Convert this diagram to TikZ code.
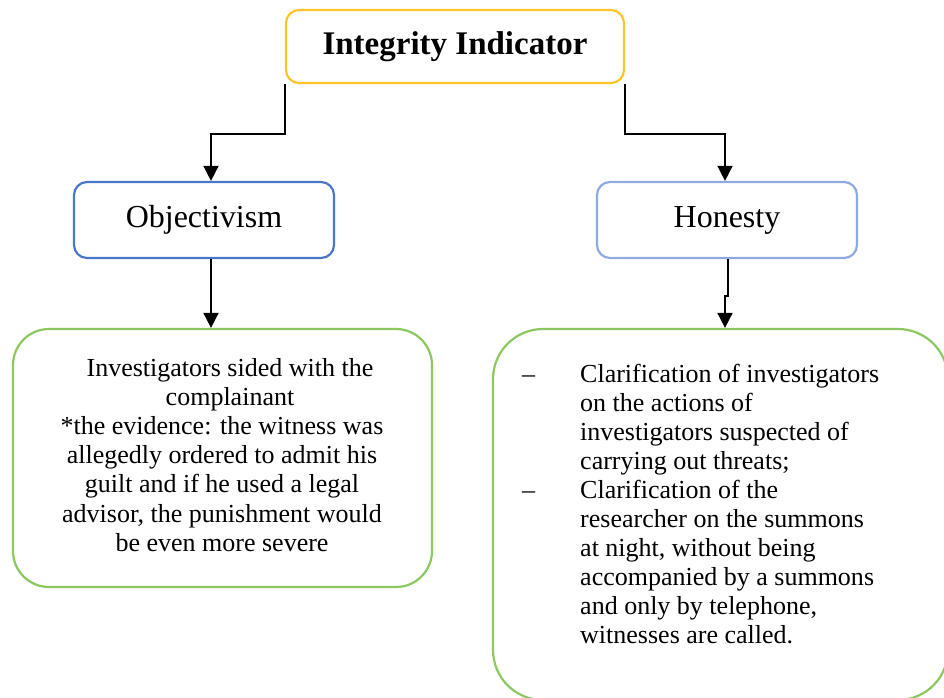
\documentclass[tikz,border=0pt]{standalone}
\usepackage{fontspec}
\setmainfont{Liberation Serif}
\usetikzlibrary{arrows.meta}
\definecolor{ybord}{RGB}{255,196,40}
\definecolor{bdark}{RGB}{72,118,200}
\definecolor{blight}{RGB}{143,170,220}
\definecolor{gbord}{RGB}{140,200,95}
\begin{document}
\begin{tikzpicture}[x=1pt,y=-1pt,
  box/.style={draw,line width=2.2pt,inner sep=0pt,align=center},
  arr/.style={line width=1.6pt,-{Triangle[length=15pt,width=15pt]}},
  txt/.style={inner sep=0pt}]
\useasboundingbox (0,0) rectangle (944,697);
\clip (0,0) rectangle (944,697);
\node[box,draw=ybord,rounded corners=13pt,minimum width=338pt,minimum height=73pt,font=\fontsize{33}{38}\selectfont\bfseries] (top) at (455,46.5) {Integrity Indicator};
\node[box,draw=bdark,rounded corners=13pt,minimum width=260pt,minimum height=76pt,font=\fontsize{32}{36}\selectfont] (obj) at (204,220) {Objectivism};
\node[box,draw=blight,rounded corners=13pt,minimum width=260pt,minimum height=76pt,font=\fontsize{32}{36}\selectfont] (hon) at (727,220) {Honesty};
\node[box,draw=gbord,rounded corners=36pt,minimum width=419pt,minimum height=258pt] (g1) at (222.5,458) {};
\node[box,draw=gbord,rounded corners=50pt,minimum width=455pt,minimum height=371pt] (g2) at (720.5,514.5) {};
\node[txt,anchor=base] (t1) at (222,376) {\parbox[t]{400pt}{\centering\fontsize{26}{29.2}\selectfont
\hspace*{16pt}Investigators sided with the\\
\hspace*{16pt}complainant\\
{}*the evidence: the witness was\\
allegedly ordered to admit his\\
guilt and if he used a legal\\
advisor, the punishment would\\
be even more severe}};
\node[txt,anchor=base west] (t2) at (522,382) {\parbox[t]{370pt}{\raggedright\fontsize{26}{29}\selectfont
\makebox[58pt][l]{–}Clarification of investigators\\
\hspace*{58pt}on the actions of\\
\hspace*{58pt}investigators suspected of\\
\hspace*{58pt}carrying out threats;\\
\makebox[58pt][l]{–}Clarification of the\\
\hspace*{58pt}researcher on the summons\\
\hspace*{58pt}at night, without being\\
\hspace*{58pt}accompanied by a summons\\
\hspace*{58pt}and only by telephone,\\
\hspace*{58pt}witnesses are called.}};
\draw[arr] (top.south west) -- ++(0,50) -| ([xshift=7pt]obj.north);
\draw[arr] (top.south east) -- ++(0,50) -| ([xshift=-2pt]hon.north);
\draw[arr] ([xshift=7pt]obj.south) -- ([xshift=7pt]obj.south |- g1.north);
\draw[arr] ([xshift=1pt]hon.south) -- ++(0,37) -- ++(-3,0) coordinate (hj) -- (hj |- g2.north);
\end{tikzpicture}
\end{document}
